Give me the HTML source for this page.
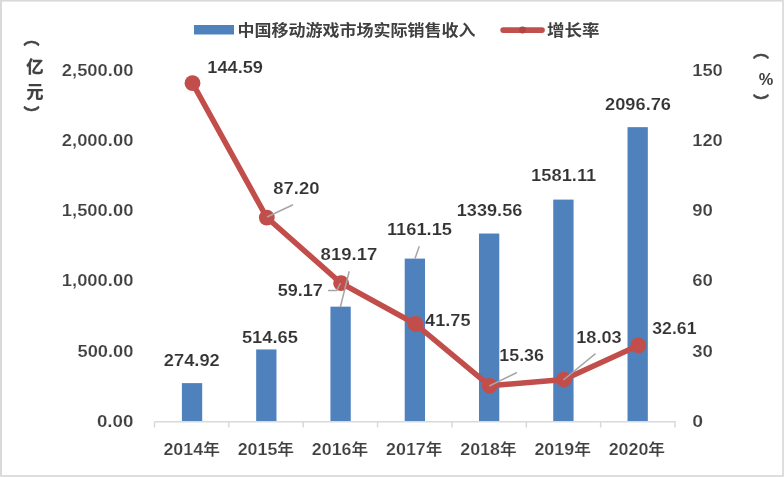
<!DOCTYPE html>
<html lang="zh"><head><meta charset="utf-8"><title>中国移动游戏市场实际销售收入</title>
<style>html,body{margin:0;padding:0;background:#fff;}body{width:784px;height:477px;overflow:hidden;}svg{display:block;}text{font-family:"Liberation Sans","Noto Sans CJK SC",sans-serif;font-weight:700;}.ax{fill:#404040;font-size:16.9px;stroke:#fff;stroke-width:0.2px;}.dl{fill:#333333;font-size:16.9px;stroke:#fff;stroke-width:0.15px;}.lg{fill:#404040;font-size:15.6px;}</style></head><body>
<svg width="784" height="477" viewBox="0 0 784 477">
<rect x="0" y="0" width="784" height="477" fill="#ffffff"/>
<rect x="0" y="0" width="784" height="1.6" fill="#d9d9d9"/>
<rect x="0" y="0" width="2" height="477" fill="#d9d9d9"/>
<rect x="0" y="475" width="784" height="2" fill="#dedede"/>
<rect x="782" y="0" width="2" height="477" fill="#dedede"/>
<rect x="194" y="25" width="40" height="9.5" fill="#4f81bd"/>
<text class="lg" x="237.6" y="35.8" textLength="238" lengthAdjust="spacingAndGlyphs">中国移动游戏市场实际销售收入</text>
<line x1="503.2" y1="30.1" x2="542" y2="30.1" stroke="#c0504d" stroke-width="5.8" stroke-linecap="round"/>
<circle cx="522.5" cy="30" r="3.4" fill="#b04542"/>
<text class="lg" x="547" y="35.8" textLength="52.4" lengthAdjust="spacingAndGlyphs">增长率</text>
<text class="lg" x="31.5" y="44.3" text-anchor="middle" style="font-size:16px;stroke:#404040;stroke-width:0.5">︵</text>
<text class="lg" x="35" y="73.3" text-anchor="middle" style="font-size:17.4px;stroke:#404040;stroke-width:0.3">亿</text>
<text class="lg" x="35" y="97.6" text-anchor="middle" style="font-size:17px;stroke:#404040;stroke-width:0.3">元</text>
<text class="lg" x="31.5" y="120" text-anchor="middle" style="font-size:16px;stroke:#404040;stroke-width:0.5">︶</text>
<text class="lg" x="761" y="57" text-anchor="middle" style="font-size:16px;stroke:#404040;stroke-width:0.4">︵</text>
<text class="lg" x="766" y="85" text-anchor="middle" style="font-size:17px;font-weight:700" textLength="14.5" lengthAdjust="spacingAndGlyphs">%</text>
<text class="lg" x="761" y="107.7" text-anchor="middle" style="font-size:16px;stroke:#404040;stroke-width:0.4">︶</text>
<text class="ax" x="96.90" y="426.75" textLength="36.5" lengthAdjust="spacingAndGlyphs">0.00</text>
<text class="ax" x="77.50" y="356.50" textLength="55.9" lengthAdjust="spacingAndGlyphs">500.00</text>
<text class="ax" x="61.80" y="286.25" textLength="71.6" lengthAdjust="spacingAndGlyphs">1,000.00</text>
<text class="ax" x="61.80" y="216.00" textLength="71.6" lengthAdjust="spacingAndGlyphs">1,500.00</text>
<text class="ax" x="61.80" y="145.75" textLength="71.6" lengthAdjust="spacingAndGlyphs">2,000.00</text>
<text class="ax" x="61.80" y="75.50" textLength="71.6" lengthAdjust="spacingAndGlyphs">2,500.00</text>
<text class="ax" x="692.2" y="426.75" textLength="10.8" lengthAdjust="spacingAndGlyphs">0</text>
<text class="ax" x="692.2" y="356.50" textLength="20.7" lengthAdjust="spacingAndGlyphs">30</text>
<text class="ax" x="692.2" y="286.25" textLength="20.7" lengthAdjust="spacingAndGlyphs">60</text>
<text class="ax" x="692.2" y="216.00" textLength="20.7" lengthAdjust="spacingAndGlyphs">90</text>
<text class="ax" x="692.2" y="145.75" textLength="30.6" lengthAdjust="spacingAndGlyphs">120</text>
<text class="ax" x="692.2" y="75.50" textLength="30.6" lengthAdjust="spacingAndGlyphs">150</text>
<rect x="181.90" y="383.12" width="20.3" height="38.63" fill="#4f81bd"/>
<rect x="256.17" y="349.44" width="20.3" height="72.31" fill="#4f81bd"/>
<rect x="330.44" y="306.66" width="20.3" height="115.09" fill="#4f81bd"/>
<rect x="404.71" y="258.61" width="20.3" height="163.14" fill="#4f81bd"/>
<rect x="478.98" y="233.54" width="20.3" height="188.21" fill="#4f81bd"/>
<rect x="553.25" y="199.60" width="20.3" height="222.15" fill="#4f81bd"/>
<rect x="627.52" y="127.16" width="20.3" height="294.59" fill="#4f81bd"/>
<line x1="154.50" y1="421.75" x2="675.50" y2="421.75" stroke="#d9d9d9" stroke-width="1.5"/>
<line x1="154.50" y1="421.75" x2="154.50" y2="427.55" stroke="#d9d9d9" stroke-width="1.5"/>
<line x1="228.86" y1="421.75" x2="228.86" y2="427.55" stroke="#d9d9d9" stroke-width="1.5"/>
<line x1="303.21" y1="421.75" x2="303.21" y2="427.55" stroke="#d9d9d9" stroke-width="1.5"/>
<line x1="377.57" y1="421.75" x2="377.57" y2="427.55" stroke="#d9d9d9" stroke-width="1.5"/>
<line x1="451.93" y1="421.75" x2="451.93" y2="427.55" stroke="#d9d9d9" stroke-width="1.5"/>
<line x1="526.29" y1="421.75" x2="526.29" y2="427.55" stroke="#d9d9d9" stroke-width="1.5"/>
<line x1="600.64" y1="421.75" x2="600.64" y2="427.55" stroke="#d9d9d9" stroke-width="1.5"/>
<line x1="675.00" y1="421.75" x2="675.00" y2="427.55" stroke="#d9d9d9" stroke-width="1.5"/>
<text class="ax" x="163.45" y="454.5" textLength="56.4" lengthAdjust="spacingAndGlyphs">2014<tspan style="font-size:15.8px">年</tspan></text>
<text class="ax" x="237.65" y="454.5" textLength="56.4" lengthAdjust="spacingAndGlyphs">2015<tspan style="font-size:15.8px">年</tspan></text>
<text class="ax" x="311.85" y="454.5" textLength="56.4" lengthAdjust="spacingAndGlyphs">2016<tspan style="font-size:15.8px">年</tspan></text>
<text class="ax" x="386.05" y="454.5" textLength="56.4" lengthAdjust="spacingAndGlyphs">2017<tspan style="font-size:15.8px">年</tspan></text>
<text class="ax" x="460.25" y="454.5" textLength="56.4" lengthAdjust="spacingAndGlyphs">2018<tspan style="font-size:15.8px">年</tspan></text>
<text class="ax" x="534.45" y="454.5" textLength="56.4" lengthAdjust="spacingAndGlyphs">2019<tspan style="font-size:15.8px">年</tspan></text>
<text class="ax" x="608.65" y="454.5" textLength="56.4" lengthAdjust="spacingAndGlyphs">2020<tspan style="font-size:15.8px">年</tspan></text>
<polyline points="192.50,83.17 266.80,217.56 341.10,283.19 415.40,323.99 489.70,385.78 564.00,379.53 638.30,345.39" fill="none" stroke="#c24e4b" stroke-width="5.5" stroke-linejoin="round" stroke-linecap="round"/>
<circle cx="192.50" cy="83.17" r="7.9" fill="#c24e4b"/>
<circle cx="266.80" cy="217.56" r="7.9" fill="#c24e4b"/>
<circle cx="341.10" cy="283.19" r="7.9" fill="#c24e4b"/>
<circle cx="415.40" cy="323.99" r="7.9" fill="#c24e4b"/>
<circle cx="489.70" cy="385.78" r="7.9" fill="#c24e4b"/>
<circle cx="564.00" cy="379.53" r="7.9" fill="#c24e4b"/>
<circle cx="638.30" cy="345.39" r="7.9" fill="#c24e4b"/>
<polyline points="267,217 293,204.8" stroke="#a6a6a6" stroke-width="1.5" fill="none"/>
<polyline points="340.4,307 349.2,271.3" stroke="#a6a6a6" stroke-width="1.5" fill="none"/>
<polyline points="328,290.6 336.7,290.6 340.5,283" stroke="#a6a6a6" stroke-width="1.5" fill="none"/>
<polyline points="415,258.5 419.3,246.2" stroke="#a6a6a6" stroke-width="1.5" fill="none"/>
<polyline points="489.3,386 517,372.5" stroke="#a6a6a6" stroke-width="1.5" fill="none"/>
<polyline points="563.3,380 595.5,353.7" stroke="#a6a6a6" stroke-width="1.5" fill="none"/>
<text class="dl" x="207.30" y="73.00" textLength="55.7" lengthAdjust="spacingAndGlyphs">144.59</text>
<text class="dl" x="273.30" y="193.50" textLength="46.2" lengthAdjust="spacingAndGlyphs">87.20</text>
<text class="dl" x="320.60" y="259.50" textLength="56.7" lengthAdjust="spacingAndGlyphs">819.17</text>
<text class="dl" x="277.70" y="296.30" textLength="45.2" lengthAdjust="spacingAndGlyphs">59.17</text>
<text class="dl" x="386.90" y="234.50" textLength="65.1" lengthAdjust="spacingAndGlyphs">1161.15</text>
<text class="dl" x="425.10" y="325.50" textLength="45.4" lengthAdjust="spacingAndGlyphs">41.75</text>
<text class="dl" x="456.80" y="216.30" textLength="65.5" lengthAdjust="spacingAndGlyphs">1339.56</text>
<text class="dl" x="499.30" y="360.50" textLength="44.7" lengthAdjust="spacingAndGlyphs">15.36</text>
<text class="dl" x="531.10" y="180.50" textLength="65.2" lengthAdjust="spacingAndGlyphs">1581.11</text>
<text class="dl" x="576.20" y="342.50" textLength="45.5" lengthAdjust="spacingAndGlyphs">18.03</text>
<text class="dl" x="605.10" y="109.50" textLength="65.9" lengthAdjust="spacingAndGlyphs">2096.76</text>
<text class="dl" x="652.30" y="334.30" textLength="44.2" lengthAdjust="spacingAndGlyphs">32.61</text>
<text class="dl" x="163.80" y="365.50" textLength="56.0" lengthAdjust="spacingAndGlyphs">274.92</text>
<text class="dl" x="241.90" y="342.50" textLength="56.0" lengthAdjust="spacingAndGlyphs">514.65</text>
</svg></body></html>
